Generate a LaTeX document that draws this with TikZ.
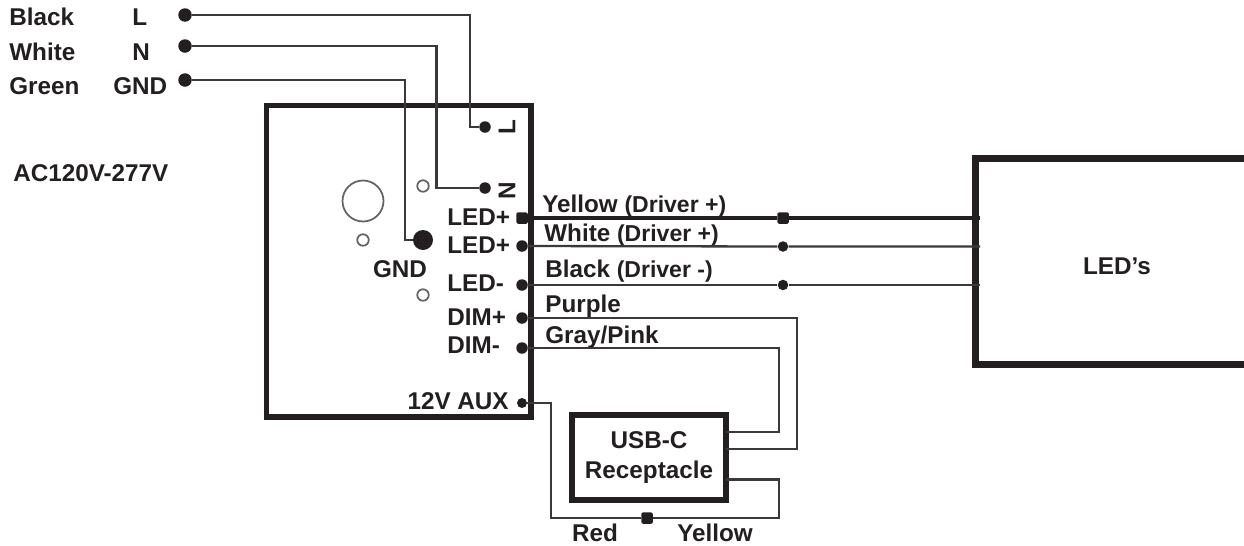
\documentclass[tikz,border=0pt]{standalone}
\usepackage{fontspec}
\setmainfont{Liberation Sans}
\usepackage{xcolor}
\definecolor{ink}{HTML}{231F20}
\definecolor{w1}{HTML}{3A3839}
\tikzstyle{label}=[anchor=base west,inner sep=0,text=ink,font=\fontsize{13.8}{17}\selectfont\bfseries]
\tikzstyle{labelr}=[label,anchor=base east]
\tikzstyle{labelc}=[label,anchor=base]
\tikzstyle{wire}=[w1,line width=0.046cm]
\tikzstyle{heavy wire}=[ink,line width=0.066cm]
\tikzstyle{wiredot}=[circle,fill=ink,inner sep=0,minimum size=0.23cm]
\tikzstyle{wiresq}=[rectangle,rounded corners=0.03cm,fill=ink,inner sep=0,minimum size=0.23cm]
\tikzstyle{hole}=[circle,draw=ink!70,line width=0.035cm,inner sep=0,minimum size=0.23cm]
\tikzstyle{box}=[rectangle,draw=ink,inner sep=0]
\newcommand{\drv}[1]{{\fontsize{13.1}{15}\selectfont #1}}
\begin{document}
\begin{tikzpicture}[x=0.02cm,y=-0.02cm]
  \useasboundingbox (0,0) rectangle (1244,545);
  \node[box,line width=0.11cm,minimum width=5.29cm,minimum height=6.23cm] (driver) at (398.75,261.25) {};
  \node[box,line width=0.12cm,minimum width=3.08cm,minimum height=1.7cm,align=center,text=ink,
        font=\fontsize{13.8}{17}\selectfont\bfseries] (usb) at (649,457.5) {USB-C\\Receptacle};
  \draw[ink,line width=0.14cm] (1244,158.5) -- (975.5,158.5) -- (975.5,364.5) -- (1244,364.5);

  \node[label] (tBlack) at (9,25) {Black};
  \node[label] (tWhite) at (9,60) {White};
  \node[label] (tGreen) at (9,94) {Green};
  \node[label] (tL) at (132,25) {L};
  \node[label] (tN) at (132,60) {N};
  \node[label] (tGnd) at (113,94) {GND};
  \node[label] (tAc) at (13,181) {AC120V-277V};
  \node[label,anchor=center,rotate=90] (tBoxL) at (507,127) {L};
  \node[label,anchor=center,rotate=90] (tBoxN) at (507,191) {N};
  \node[label] (tLedA) at (447,225) {LED+};
  \node[label] (tLedB) at (447,253) {LED+};
  \node[label] (tLedC) at (447,291) {LED-};
  \node[label] (tDimA) at (447,325) {DIM+};
  \node[label] (tDimB) at (447,353) {DIM-};
  \node[labelr] (tAux) at (509,409) {12V AUX};
  \node[labelc] (tBoxGnd) at (400,277) {GND};
  \node[label] (tYellow) at (542,212) {Yellow \drv{(Driver +)}};
  \node[label] (tWhiteB) at (544,241) {White \drv{(Driver +)}};
  \node[label] (tBlackB) at (545,277) {Black \drv{(Driver -)}};
  \node[label] (tPurple) at (545,312) {Purple};
  \node[label] (tGray) at (545,343) {Gray/Pink};
  \node[labelc] (tRed) at (595,541) {Red};
  \node[labelc] (tYellowB) at (715,541) {Yellow};
  \node[labelc] (tLeds) at (1117,274) {LED’s};

  \node[hole,minimum size=0.82cm] (knob) at (363,201) {};
  \node[hole] (holeA) at (423,186) {};
  \node[hole] (holeB) at (363,240) {};
  \node[hole] (holeC) at (423,295) {};

  \node[wiredot,minimum size=0.27cm] (acL) at (185,15) {};
  \node[wiredot,minimum size=0.27cm] (acN) at (185,46) {};
  \node[wiredot,minimum size=0.27cm] (acG) at (185,80) {};
  \node[wiredot] (dotL) at (485,127) {};
  \node[wiredot] (dotN) at (485,188) {};
  \node[wiredot,minimum size=0.4cm] (dotG) at (423,240) {};
  \node[wiresq] (outY) at (522,218) {};
  \node[wiredot] (outW) at (522,246) {};
  \node[wiredot] (outB) at (522,285) {};
  \node[wiredot] (outP) at (522,318) {};
  \node[wiredot] (outD) at (522,348) {};
  \node[wiredot,minimum size=0.2cm] (outA) at (522,403) {};
  \node[wiresq] (midY) at (783,218) {};
  \node[wiredot,minimum size=0.21cm] (midW) at (783,246.5) {};
  \node[wiredot,minimum size=0.21cm] (midB) at (783,285) {};
  \node[wiresq] (midR) at (647,518) {};

  \coordinate (bendL) at (470,127);
  \coordinate (bendN) at (436.5,188);
  \coordinate (bendG) at (405,240);
  \coordinate (ledY) at (980,218);
  \coordinate (ledW) at (980,246.5);
  \coordinate (ledB) at (980,285);
  \coordinate (usbD) at (726,432);
  \coordinate (usbP) at (726,449);
  \coordinate (usbY) at (726,479.5);
  \coordinate (bendP) at (797,449);
  \coordinate (bendD) at (779,432);
  \coordinate (bendY) at (779,518);
  \coordinate (bendR) at (551,518);

  \draw[wire] (acL) -| (bendL) -- (dotL);
  \draw[wire] (acN) -| (bendN) -- (dotN);
  \draw[wire] (acG) -| (bendG) -- (dotG);
  \draw[heavy wire] (outY) -- (midY) -- (ledY);
  \draw[wire] (outW) -- (midW) -- (ledW);
  \draw[wire] (outB) -- (midB) -- (ledB);
  \draw[wire] (outP) -| (bendP) -- (usbP);
  \draw[wire] (outD) -| (bendD) -- (usbD);
  \draw[wire] (usbY) -| (bendY) -- (midR) -- (bendR) |- (outA);
\end{tikzpicture}
\end{document}
